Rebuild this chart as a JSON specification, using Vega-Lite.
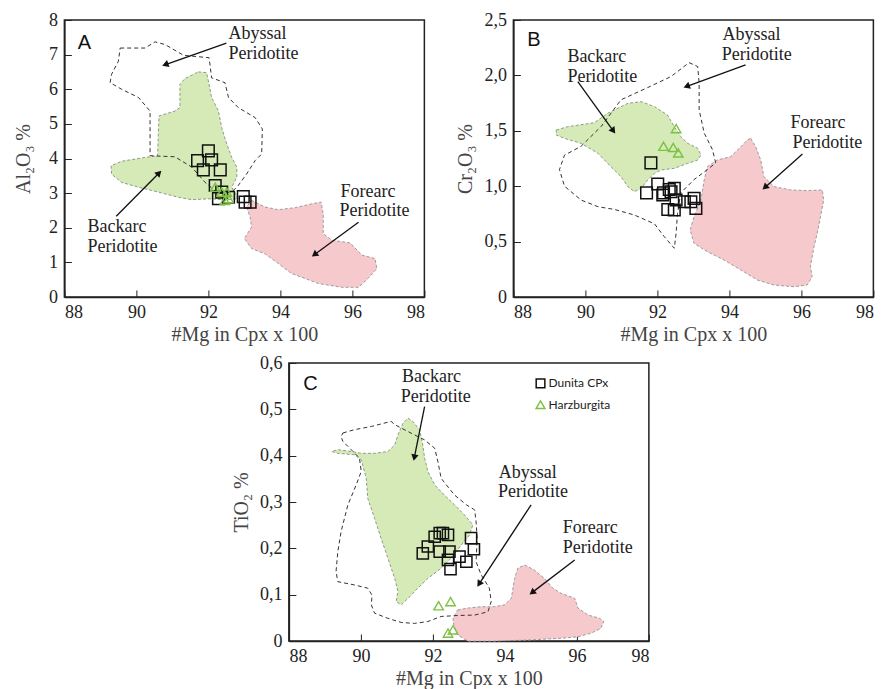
{
"$schema":"https://vega.github.io/schema/vega-lite/v6.json",
"background":"white",
"padding":{"left":12,"top":10,"right":5,"bottom":0},
"config":{
 "view":{"stroke":"#222","strokeWidth":1.5},
 "axis":{"grid":false,"domainColor":"#222","domainWidth":1.5,"tickColor":"#222","tickWidth":1,"tickSize":-7,"labelFont":"Liberation Serif","labelFontSize":18,"labelColor":"#222","labelPadding":10,"titleFont":"Liberation Serif","titleFontSize":20,"titleFontWeight":"normal","titleColor":"#444"},
 "axisX":{"labelPadding":13.5,"titlePadding":2.5},
 "axisY":{"labelPadding":14,"titlePadding":6}
},
"datasets":{
 "poly":[
  {"p":"A","r":"aby","x":89.55,"y":7.19},{"p":"A","r":"aby","x":90.24,"y":7.19},{"p":"A","r":"aby","x":90.52,"y":7.37},{"p":"A","r":"aby","x":90.8,"y":7.29},{"p":"A","r":"aby","x":91.31,"y":6.98},{"p":"A","r":"aby","x":92.02,"y":6.91},{"p":"A","r":"aby","x":92.09,"y":6.33},{"p":"A","r":"aby","x":92.46,"y":6.19},{"p":"A","r":"aby","x":92.56,"y":5.76},{"p":"A","r":"aby","x":92.83,"y":5.47},{"p":"A","r":"aby","x":93.3,"y":5.18},{"p":"A","r":"aby","x":93.5,"y":4.85},{"p":"A","r":"aby","x":93.48,"y":4.13},{"p":"A","r":"aby","x":93.3,"y":3.94},{"p":"A","r":"aby","x":93.06,"y":3.55},{"p":"A","r":"aby","x":92.83,"y":3.22},{"p":"A","r":"aby","x":92.65,"y":3.03},{"p":"A","r":"aby","x":92.28,"y":2.98},{"p":"A","r":"aby","x":91.91,"y":3.31},{"p":"A","r":"aby","x":91.54,"y":3.75},{"p":"A","r":"aby","x":91.07,"y":4.05},{"p":"A","r":"aby","x":90.38,"y":4.08},{"p":"A","r":"aby","x":90.38,"y":5.37},{"p":"A","r":"aby","x":90.06,"y":5.76},{"p":"A","r":"aby","x":89.59,"y":6.0},{"p":"A","r":"aby","x":89.27,"y":6.19},{"p":"A","r":"aby","x":89.31,"y":6.43},{"p":"A","r":"aby","x":89.5,"y":6.81},
  {"p":"A","r":"back","x":91.72,"y":6.5},{"p":"A","r":"back","x":91.95,"y":6.48},{"p":"A","r":"back","x":92.02,"y":6.14},{"p":"A","r":"back","x":92.09,"y":5.76},{"p":"A","r":"back","x":92.28,"y":5.37},{"p":"A","r":"back","x":92.37,"y":4.89},{"p":"A","r":"back","x":92.51,"y":4.42},{"p":"A","r":"back","x":92.65,"y":4.03},{"p":"A","r":"back","x":92.79,"y":3.75},{"p":"A","r":"back","x":92.79,"y":3.46},{"p":"A","r":"back","x":92.65,"y":3.17},{"p":"A","r":"back","x":92.83,"y":2.84},{"p":"A","r":"back","x":92.46,"y":2.8},{"p":"A","r":"back","x":92.09,"y":2.84},{"p":"A","r":"back","x":91.54,"y":2.81},{"p":"A","r":"back","x":91.17,"y":2.88},{"p":"A","r":"back","x":90.61,"y":3.03},{"p":"A","r":"back","x":90.06,"y":3.17},{"p":"A","r":"back","x":89.59,"y":3.31},{"p":"A","r":"back","x":89.31,"y":3.55},{"p":"A","r":"back","x":89.3,"y":3.79},{"p":"A","r":"back","x":89.59,"y":3.92},{"p":"A","r":"back","x":90.24,"y":4.03},{"p":"A","r":"back","x":90.59,"y":4.08},{"p":"A","r":"back","x":90.61,"y":4.7},{"p":"A","r":"back","x":90.63,"y":5.23},{"p":"A","r":"back","x":91.07,"y":5.37},{"p":"A","r":"back","x":91.21,"y":5.47},{"p":"A","r":"back","x":91.21,"y":6.14},{"p":"A","r":"back","x":91.35,"y":6.31},
  {"p":"A","r":"fore","x":93.2,"y":2.79},{"p":"A","r":"fore","x":93.57,"y":2.6},{"p":"A","r":"fore","x":93.94,"y":2.52},{"p":"A","r":"fore","x":94.41,"y":2.58},{"p":"A","r":"fore","x":94.87,"y":2.69},{"p":"A","r":"fore","x":95.13,"y":2.74},{"p":"A","r":"fore","x":95.19,"y":2.4},{"p":"A","r":"fore","x":95.19,"y":1.83},{"p":"A","r":"fore","x":95.43,"y":1.64},{"p":"A","r":"fore","x":95.94,"y":1.56},{"p":"A","r":"fore","x":96.26,"y":1.21},{"p":"A","r":"fore","x":96.63,"y":1.11},{"p":"A","r":"fore","x":96.68,"y":0.82},{"p":"A","r":"fore","x":96.44,"y":0.54},{"p":"A","r":"fore","x":96.17,"y":0.28},{"p":"A","r":"fore","x":95.7,"y":0.28},{"p":"A","r":"fore","x":95.06,"y":0.39},{"p":"A","r":"fore","x":94.31,"y":0.68},{"p":"A","r":"fore","x":93.94,"y":0.97},{"p":"A","r":"fore","x":93.57,"y":1.25},{"p":"A","r":"fore","x":93.2,"y":1.4},{"p":"A","r":"fore","x":93.0,"y":1.69},{"p":"A","r":"fore","x":93.2,"y":2.02},{"p":"A","r":"fore","x":93.16,"y":2.31},{"p":"A","r":"fore","x":93.06,"y":2.6},
  {"p":"B","r":"aby","x":92.88,"y":2.115},{"p":"B","r":"aby","x":93.12,"y":2.08},{"p":"B","r":"aby","x":93.16,"y":1.93},{"p":"B","r":"aby","x":93.16,"y":1.69},{"p":"B","r":"aby","x":93.3,"y":1.48},{"p":"B","r":"aby","x":93.53,"y":1.33},{"p":"B","r":"aby","x":93.62,"y":1.21},{"p":"B","r":"aby","x":93.39,"y":1.15},{"p":"B","r":"aby","x":93.02,"y":1.06},{"p":"B","r":"aby","x":92.65,"y":0.94},{"p":"B","r":"aby","x":92.56,"y":0.755},{"p":"B","r":"aby","x":92.52,"y":0.575},{"p":"B","r":"aby","x":92.47,"y":0.44},{"p":"B","r":"aby","x":92.19,"y":0.545},{"p":"B","r":"aby","x":91.92,"y":0.66},{"p":"B","r":"aby","x":91.36,"y":0.74},{"p":"B","r":"aby","x":90.81,"y":0.79},{"p":"B","r":"aby","x":90.35,"y":0.815},{"p":"B","r":"aby","x":89.88,"y":0.875},{"p":"B","r":"aby","x":89.42,"y":1.0},{"p":"B","r":"aby","x":89.28,"y":1.15},{"p":"B","r":"aby","x":89.42,"y":1.28},{"p":"B","r":"aby","x":89.88,"y":1.36},{"p":"B","r":"aby","x":90.44,"y":1.54},{"p":"B","r":"aby","x":90.99,"y":1.78},{"p":"B","r":"aby","x":91.73,"y":1.89},{"p":"B","r":"aby","x":92.38,"y":1.99},
  {"p":"B","r":"back","x":89.19,"y":1.507},{"p":"B","r":"back","x":89.51,"y":1.537},{"p":"B","r":"back","x":90.25,"y":1.573},{"p":"B","r":"back","x":90.62,"y":1.658},{"p":"B","r":"back","x":91.18,"y":1.748},{"p":"B","r":"back","x":91.55,"y":1.763},{"p":"B","r":"back","x":91.92,"y":1.718},{"p":"B","r":"back","x":92.28,"y":1.643},{"p":"B","r":"back","x":92.47,"y":1.537},{"p":"B","r":"back","x":92.65,"y":1.447},{"p":"B","r":"back","x":92.84,"y":1.387},{"p":"B","r":"back","x":93.12,"y":1.342},{"p":"B","r":"back","x":93.21,"y":1.282},{"p":"B","r":"back","x":93.12,"y":1.236},{"p":"B","r":"back","x":92.84,"y":1.206},{"p":"B","r":"back","x":92.47,"y":1.161},{"p":"B","r":"back","x":92.1,"y":1.146},{"p":"B","r":"back","x":91.92,"y":1.116},{"p":"B","r":"back","x":91.73,"y":1.056},{"p":"B","r":"back","x":91.55,"y":0.981},{"p":"B","r":"back","x":91.36,"y":0.951},{"p":"B","r":"back","x":91.18,"y":0.996},{"p":"B","r":"back","x":90.99,"y":1.086},{"p":"B","r":"back","x":90.71,"y":1.176},{"p":"B","r":"back","x":90.35,"y":1.297},{"p":"B","r":"back","x":89.88,"y":1.387},{"p":"B","r":"back","x":89.42,"y":1.432},{"p":"B","r":"back","x":89.19,"y":1.462},
  {"p":"B","r":"fore","x":94.59,"y":1.432},{"p":"B","r":"fore","x":94.73,"y":1.357},{"p":"B","r":"fore","x":94.87,"y":1.236},{"p":"B","r":"fore","x":94.96,"y":1.086},{"p":"B","r":"fore","x":95.24,"y":0.996},{"p":"B","r":"fore","x":95.7,"y":0.966},{"p":"B","r":"fore","x":96.16,"y":0.96},{"p":"B","r":"fore","x":96.58,"y":0.966},{"p":"B","r":"fore","x":96.62,"y":0.875},{"p":"B","r":"fore","x":96.53,"y":0.725},{"p":"B","r":"fore","x":96.44,"y":0.575},{"p":"B","r":"fore","x":96.35,"y":0.454},{"p":"B","r":"fore","x":96.25,"y":0.274},{"p":"B","r":"fore","x":96.3,"y":0.184},{"p":"B","r":"fore","x":96.16,"y":0.108},{"p":"B","r":"fore","x":95.79,"y":0.093},{"p":"B","r":"fore","x":95.24,"y":0.108},{"p":"B","r":"fore","x":94.78,"y":0.153},{"p":"B","r":"fore","x":94.32,"y":0.244},{"p":"B","r":"fore","x":93.85,"y":0.334},{"p":"B","r":"fore","x":93.39,"y":0.409},{"p":"B","r":"fore","x":93.02,"y":0.484},{"p":"B","r":"fore","x":92.91,"y":0.605},{"p":"B","r":"fore","x":93.02,"y":0.725},{"p":"B","r":"fore","x":93.21,"y":0.875},{"p":"B","r":"fore","x":93.3,"y":1.056},{"p":"B","r":"fore","x":93.39,"y":1.176},{"p":"B","r":"fore","x":93.67,"y":1.236},{"p":"B","r":"fore","x":94.04,"y":1.267},{"p":"B","r":"fore","x":94.32,"y":1.357},{"p":"B","r":"fore","x":94.5,"y":1.417},
  {"p":"C","r":"aby","x":89.5,"y":0.449},{"p":"C","r":"aby","x":89.82,"y":0.456},{"p":"C","r":"aby","x":90.29,"y":0.463},{"p":"C","r":"aby","x":90.84,"y":0.474},{"p":"C","r":"aby","x":90.94,"y":0.467},{"p":"C","r":"aby","x":91.31,"y":0.452},{"p":"C","r":"aby","x":91.77,"y":0.434},{"p":"C","r":"aby","x":92.05,"y":0.416},{"p":"C","r":"aby","x":92.14,"y":0.387},{"p":"C","r":"aby","x":92.23,"y":0.351},{"p":"C","r":"aby","x":92.6,"y":0.315},{"p":"C","r":"aby","x":92.93,"y":0.294},{"p":"C","r":"aby","x":93.16,"y":0.283},{"p":"C","r":"aby","x":93.2,"y":0.258},{"p":"C","r":"aby","x":93.23,"y":0.222},{"p":"C","r":"aby","x":93.2,"y":0.171},{"p":"C","r":"aby","x":93.34,"y":0.143},{"p":"C","r":"aby","x":93.57,"y":0.114},{"p":"C","r":"aby","x":93.62,"y":0.085},{"p":"C","r":"aby","x":93.53,"y":0.063},{"p":"C","r":"aby","x":93.16,"y":0.056},{"p":"C","r":"aby","x":92.69,"y":0.055},{"p":"C","r":"aby","x":92.23,"y":0.053},{"p":"C","r":"aby","x":91.86,"y":0.042},{"p":"C","r":"aby","x":91.49,"y":0.038},{"p":"C","r":"aby","x":91.12,"y":0.04},{"p":"C","r":"aby","x":90.75,"y":0.049},{"p":"C","r":"aby","x":90.38,"y":0.06},{"p":"C","r":"aby","x":90.29,"y":0.078},{"p":"C","r":"aby","x":90.31,"y":0.099},{"p":"C","r":"aby","x":90.19,"y":0.114},{"p":"C","r":"aby","x":89.82,"y":0.121},{"p":"C","r":"aby","x":89.36,"y":0.128},{"p":"C","r":"aby","x":89.31,"y":0.15},{"p":"C","r":"aby","x":89.36,"y":0.193},{"p":"C","r":"aby","x":89.45,"y":0.236},{"p":"C","r":"aby","x":89.64,"y":0.294},{"p":"C","r":"aby","x":89.87,"y":0.337},{"p":"C","r":"aby","x":90.01,"y":0.366},{"p":"C","r":"aby","x":89.96,"y":0.395},{"p":"C","r":"aby","x":89.73,"y":0.413},{"p":"C","r":"aby","x":89.5,"y":0.431},{"p":"C","r":"aby","x":89.45,"y":0.441},
  {"p":"C","r":"back","x":91.31,"y":0.481},{"p":"C","r":"back","x":91.44,"y":0.474},{"p":"C","r":"back","x":91.63,"y":0.456},{"p":"C","r":"back","x":91.72,"y":0.423},{"p":"C","r":"back","x":91.77,"y":0.395},{"p":"C","r":"back","x":91.86,"y":0.366},{"p":"C","r":"back","x":92.05,"y":0.337},{"p":"C","r":"back","x":92.32,"y":0.315},{"p":"C","r":"back","x":92.6,"y":0.294},{"p":"C","r":"back","x":92.88,"y":0.272},{"p":"C","r":"back","x":93.11,"y":0.251},{"p":"C","r":"back","x":93.02,"y":0.229},{"p":"C","r":"back","x":92.79,"y":0.207},{"p":"C","r":"back","x":92.51,"y":0.179},{"p":"C","r":"back","x":92.23,"y":0.157},{"p":"C","r":"back","x":91.86,"y":0.135},{"p":"C","r":"back","x":91.58,"y":0.114},{"p":"C","r":"back","x":91.31,"y":0.092},{"p":"C","r":"back","x":91.12,"y":0.078},{"p":"C","r":"back","x":90.98,"y":0.085},{"p":"C","r":"back","x":91.03,"y":0.107},{"p":"C","r":"back","x":90.94,"y":0.135},{"p":"C","r":"back","x":90.75,"y":0.179},{"p":"C","r":"back","x":90.56,"y":0.222},{"p":"C","r":"back","x":90.38,"y":0.265},{"p":"C","r":"back","x":90.19,"y":0.308},{"p":"C","r":"back","x":90.15,"y":0.351},{"p":"C","r":"back","x":90.01,"y":0.391},{"p":"C","r":"back","x":89.82,"y":0.402},{"p":"C","r":"back","x":89.36,"y":0.405},{"p":"C","r":"back","x":89.19,"y":0.409},{"p":"C","r":"back","x":89.36,"y":0.413},{"p":"C","r":"back","x":89.73,"y":0.409},{"p":"C","r":"back","x":90.01,"y":0.405},{"p":"C","r":"back","x":90.38,"y":0.405},{"p":"C","r":"back","x":90.75,"y":0.409},{"p":"C","r":"back","x":90.94,"y":0.423},{"p":"C","r":"back","x":91.03,"y":0.445},{"p":"C","r":"back","x":91.17,"y":0.47},
  {"p":"C","r":"fore","x":92.69,"y":0.067},{"p":"C","r":"fore","x":92.97,"y":0.071},{"p":"C","r":"fore","x":93.34,"y":0.074},{"p":"C","r":"fore","x":93.71,"y":0.074},{"p":"C","r":"fore","x":93.99,"y":0.078},{"p":"C","r":"fore","x":94.18,"y":0.092},{"p":"C","r":"fore","x":94.27,"y":0.135},{"p":"C","r":"fore","x":94.36,"y":0.157},{"p":"C","r":"fore","x":94.55,"y":0.164},{"p":"C","r":"fore","x":94.82,"y":0.153},{"p":"C","r":"fore","x":95.1,"y":0.135},{"p":"C","r":"fore","x":95.33,"y":0.114},{"p":"C","r":"fore","x":95.56,"y":0.103},{"p":"C","r":"fore","x":95.94,"y":0.092},{"p":"C","r":"fore","x":96.03,"y":0.071},{"p":"C","r":"fore","x":96.31,"y":0.056},{"p":"C","r":"fore","x":96.63,"y":0.049},{"p":"C","r":"fore","x":96.75,"y":0.042},{"p":"C","r":"fore","x":96.66,"y":0.027},{"p":"C","r":"fore","x":96.4,"y":0.017},{"p":"C","r":"fore","x":96.03,"y":0.009},{"p":"C","r":"fore","x":95.56,"y":0.006},{"p":"C","r":"fore","x":94.64,"y":0.002},{"p":"C","r":"fore","x":93.71,"y":0.0},{"p":"C","r":"fore","x":92.97,"y":0.0},{"p":"C","r":"fore","x":92.69,"y":0.013},{"p":"C","r":"fore","x":92.58,"y":0.035},{"p":"C","r":"fore","x":92.56,"y":0.049}
 ],
 "pts":[
  {"p":"A","t":"Dunita CPx","x":91.7,"y":3.94},{"p":"A","t":"Dunita CPx","x":92.0,"y":4.22},{"p":"A","t":"Dunita CPx","x":92.09,"y":3.96},{"p":"A","t":"Dunita CPx","x":91.86,"y":3.67},{"p":"A","t":"Dunita CPx","x":92.33,"y":3.67},{"p":"A","t":"Dunita CPx","x":92.19,"y":3.22},{"p":"A","t":"Dunita CPx","x":92.37,"y":3.03},{"p":"A","t":"Dunita CPx","x":92.28,"y":2.84},{"p":"A","t":"Dunita CPx","x":92.56,"y":2.88},{"p":"A","t":"Dunita CPx","x":92.97,"y":2.9},{"p":"A","t":"Dunita CPx","x":93.02,"y":2.74},{"p":"A","t":"Dunita CPx","x":93.16,"y":2.74},
  {"p":"A","t":"Harzburgita","x":92.19,"y":3.17},{"p":"A","t":"Harzburgita","x":92.37,"y":3.03},{"p":"A","t":"Harzburgita","x":92.51,"y":3.03},{"p":"A","t":"Harzburgita","x":92.56,"y":2.84},{"p":"A","t":"Harzburgita","x":92.46,"y":2.79},
  {"p":"B","t":"Dunita CPx","x":91.82,"y":1.21},{"p":"B","t":"Dunita CPx","x":91.7,"y":0.94},{"p":"B","t":"Dunita CPx","x":92.01,"y":1.02},{"p":"B","t":"Dunita CPx","x":92.17,"y":0.94},{"p":"B","t":"Dunita CPx","x":92.33,"y":0.97},{"p":"B","t":"Dunita CPx","x":92.47,"y":0.98},{"p":"B","t":"Dunita CPx","x":92.29,"y":0.79},{"p":"B","t":"Dunita CPx","x":92.47,"y":0.785},{"p":"B","t":"Dunita CPx","x":92.52,"y":0.875},{"p":"B","t":"Dunita CPx","x":92.75,"y":0.86},{"p":"B","t":"Dunita CPx","x":92.93,"y":0.86},{"p":"B","t":"Dunita CPx","x":93.02,"y":0.89},{"p":"B","t":"Dunita CPx","x":93.07,"y":0.8},{"p":"B","t":"Dunita CPx","x":92.15,"y":0.92},{"p":"B","t":"Dunita CPx","x":92.38,"y":0.95},
  {"p":"B","t":"Harzburgita","x":92.52,"y":1.52},{"p":"B","t":"Harzburgita","x":92.17,"y":1.36},{"p":"B","t":"Harzburgita","x":92.44,"y":1.35},{"p":"B","t":"Harzburgita","x":92.58,"y":1.3},
  {"p":"C","t":"Dunita CPx","x":91.72,"y":0.189},{"p":"C","t":"Dunita CPx","x":91.86,"y":0.204},{"p":"C","t":"Dunita CPx","x":92.05,"y":0.225},{"p":"C","t":"Dunita CPx","x":92.19,"y":0.233},{"p":"C","t":"Dunita CPx","x":92.28,"y":0.233},{"p":"C","t":"Dunita CPx","x":92.42,"y":0.229},{"p":"C","t":"Dunita CPx","x":92.19,"y":0.193},{"p":"C","t":"Dunita CPx","x":92.46,"y":0.193},{"p":"C","t":"Dunita CPx","x":92.42,"y":0.175},{"p":"C","t":"Dunita CPx","x":92.49,"y":0.155},{"p":"C","t":"Dunita CPx","x":92.74,"y":0.182},{"p":"C","t":"Dunita CPx","x":92.93,"y":0.171},{"p":"C","t":"Dunita CPx","x":93.06,"y":0.222},{"p":"C","t":"Dunita CPx","x":93.14,"y":0.198},
  {"p":"C","t":"Harzburgita","x":92.16,"y":0.076},{"p":"C","t":"Harzburgita","x":92.49,"y":0.085},{"p":"C","t":"Harzburgita","x":92.42,"y":0.017},{"p":"C","t":"Harzburgita","x":92.56,"y":0.024}
 ],
 "notes":[
  {"p":"A","k":"letter","x":88.56,"y":7.33,"text":"A"},
  {"p":"A","k":"note","x":92.56,"y":7.59,"text":"Abyssal"},{"p":"A","k":"note","x":92.56,"y":7.01,"text":"Peridotite"},
  {"p":"A","k":"note","x":88.64,"y":2.01,"text":"Backarc"},{"p":"A","k":"note","x":88.64,"y":1.44,"text":"Peridotite"},
  {"p":"A","k":"note","x":95.67,"y":3.02,"text":"Forearc"},{"p":"A","k":"note","x":95.64,"y":2.47,"text":"Peridotite"},
  {"p":"B","k":"letter","x":88.57,"y":2.315,"text":"B"},
  {"p":"B","k":"note","x":89.5,"y":2.166,"text":"Backarc"},{"p":"B","k":"note","x":89.5,"y":1.986,"text":"Peridotite"},
  {"p":"B","k":"note","x":93.81,"y":2.365,"text":"Abyssal"},{"p":"B","k":"note","x":93.79,"y":2.184,"text":"Peridotite"},
  {"p":"B","k":"note","x":95.7,"y":1.57,"text":"Forearc"},{"p":"B","k":"note","x":95.75,"y":1.39,"text":"Peridotite"},
  {"p":"C","k":"letter","x":88.6,"y":0.554,"text":"C"},
  {"p":"C","k":"note","x":91.14,"y":0.57,"text":"Backarc"},{"p":"C","k":"note","x":91.11,"y":0.527,"text":"Peridotite"},
  {"p":"C","k":"note","x":93.83,"y":0.363,"text":"Abyssal"},{"p":"C","k":"note","x":93.81,"y":0.322,"text":"Peridotite"},
  {"p":"C","k":"note","x":95.61,"y":0.244,"text":"Forearc"},{"p":"C","k":"note","x":95.61,"y":0.201,"text":"Peridotite"}
 ],
 "arrows":[
  {"p":"A","x0":92.5,"y0":7.33,"x":90.83,"y":6.72,"ang":250.7},
  {"p":"A","x0":89.44,"y0":2.33,"x":90.61,"y":3.56,"ang":44.3},
  {"p":"A","x0":96.17,"y0":2.16,"x":94.97,"y":1.24,"ang":233.3},
  {"p":"B","x0":89.79,"y0":1.943,"x":90.76,"y":1.507,"ang":144},
  {"p":"B","x0":94.45,"y0":2.094,"x":92.84,"y":1.904,"ang":250.2},
  {"p":"B","x0":96.03,"y0":1.291,"x":95.01,"y":0.995,"ang":228.3},
  {"p":"C","x0":91.77,"y0":0.506,"x":91.49,"y":0.398,"ang":191.3},
  {"p":"C","x0":94.73,"y0":0.294,"x":93.3,"y":0.125,"ang":213.4},
  {"p":"C","x0":95.94,"y0":0.175,"x":94.78,"y":0.106,"ang":232.8}
 ],
 "leg":[
  {"t":"Dunita CPx","x":94.99,"y":0.556},
  {"t":"Harzburgita","x":94.99,"y":0.51}
 ]
},
"spacing":8,
"center":true,
"vconcat":[
 {"hconcat":[
  {"width":360,"height":277,
   "encoding":{
    "x":{"field":"x","type":"quantitative","scale":{"domain":[88,98],"nice":false,"zero":false},"axis":{"values":[88,90,92,94,96,98],"title":"#Mg in Cpx x 100"}},
    "y":{"field":"y","type":"quantitative","scale":{"domain":[0,8],"nice":false},"axis":{"values":[0,1,2,3,4,5,6,7,8],"title":"Al₂O₃ %","titlePadding":15}}
   },
   "layer":[
    {"data":{"name":"poly"},"transform":[{"filter":"datum.p=='A' && datum.r=='back'"}],"mark":{"type":"line","interpolate":"linear-closed","fill":"#d5eab7","stroke":"#8e9c86","strokeWidth":1,"strokeDash":[3,2]},"encoding":{"order":{"value":null}}},
    {"data":{"name":"poly"},"transform":[{"filter":"datum.p=='A' && datum.r=='fore'"}],"mark":{"type":"line","interpolate":"linear-closed","fill":"#f6c9cd","stroke":"#a09a9a","strokeWidth":1,"strokeDash":[3,2]},"encoding":{"order":{"value":null}}},
    {"data":{"name":"poly"},"transform":[{"filter":"datum.p=='A' && datum.r=='aby'"}],"mark":{"type":"line","interpolate":"linear-closed","stroke":"#333","strokeWidth":1,"strokeDash":[4,3]},"encoding":{"order":{"value":null}}},
    {"data":{"name":"pts"},"transform":[{"filter":"datum.p=='A' && datum.t=='Dunita CPx'"}],"mark":{"type":"point","shape":"square","size":135,"filled":false,"stroke":"#111","strokeWidth":1.5,"opacity":1}},
    {"data":{"name":"pts"},"transform":[{"filter":"datum.p=='A' && datum.t=='Harzburgita'"}],"mark":{"type":"point","shape":"triangle-up","size":90,"filled":false,"stroke":"#7cc142","strokeWidth":1.4,"opacity":1}},
    {"data":{"name":"arrows"},"transform":[{"filter":"datum.p=='A'"}],"mark":{"type":"rule","stroke":"#111","strokeWidth":1.3},"encoding":{"x2":{"field":"x0"},"y2":{"field":"y0"}}},
    {"data":{"name":"arrows"},"transform":[{"filter":"datum.p=='A'"}],"mark":{"type":"point","shape":"triangle","size":55,"filled":true,"color":"#111","opacity":1},"encoding":{"angle":{"field":"ang","type":"quantitative","scale":null}}},
    {"data":{"name":"notes"},"transform":[{"filter":"datum.p=='A' && datum.k=='note'"}],"mark":{"type":"text","font":"Liberation Serif","fontSize":18,"align":"left","baseline":"middle","color":"#222"},"encoding":{"text":{"field":"text","type":"nominal"}}},
    {"data":{"name":"notes"},"transform":[{"filter":"datum.p=='A' && datum.k=='letter'"}],"mark":{"type":"text","font":"Liberation Sans","fontSize":20,"align":"center","baseline":"middle","color":"#111"},"encoding":{"text":{"field":"text","type":"nominal"}}}
   ]},
  {"width":360,"height":277,
   "encoding":{
    "x":{"field":"x","type":"quantitative","scale":{"domain":[88,98],"nice":false,"zero":false},"axis":{"values":[88,90,92,94,96,98],"title":"#Mg in Cpx x 100"}},
    "y":{"field":"y","type":"quantitative","scale":{"domain":[0,2.5],"nice":false},"axis":{"values":[0,0.5,1,1.5,2,2.5],"labelExpr":"datum.value==0 ? '0' : replace(format(datum.value,'.1f'),'.',',')","title":"Cr₂O₃ %","titlePadding":8}}
   },
   "layer":[
    {"data":{"name":"poly"},"transform":[{"filter":"datum.p=='B' && datum.r=='back'"}],"mark":{"type":"line","interpolate":"linear-closed","fill":"#d5eab7","stroke":"#8e9c86","strokeWidth":1,"strokeDash":[3,2]},"encoding":{"order":{"value":null}}},
    {"data":{"name":"poly"},"transform":[{"filter":"datum.p=='B' && datum.r=='fore'"}],"mark":{"type":"line","interpolate":"linear-closed","fill":"#f6c9cd","stroke":"#a09a9a","strokeWidth":1,"strokeDash":[3,2]},"encoding":{"order":{"value":null}}},
    {"data":{"name":"poly"},"transform":[{"filter":"datum.p=='B' && datum.r=='aby'"}],"mark":{"type":"line","interpolate":"linear-closed","stroke":"#333","strokeWidth":1,"strokeDash":[4,3]},"encoding":{"order":{"value":null}}},
    {"data":{"name":"pts"},"transform":[{"filter":"datum.p=='B' && datum.t=='Dunita CPx'"}],"mark":{"type":"point","shape":"square","size":135,"filled":false,"stroke":"#111","strokeWidth":1.5,"opacity":1}},
    {"data":{"name":"pts"},"transform":[{"filter":"datum.p=='B' && datum.t=='Harzburgita'"}],"mark":{"type":"point","shape":"triangle-up","size":90,"filled":false,"stroke":"#7cc142","strokeWidth":1.4,"opacity":1}},
    {"data":{"name":"arrows"},"transform":[{"filter":"datum.p=='B'"}],"mark":{"type":"rule","stroke":"#111","strokeWidth":1.3},"encoding":{"x2":{"field":"x0"},"y2":{"field":"y0"}}},
    {"data":{"name":"arrows"},"transform":[{"filter":"datum.p=='B'"}],"mark":{"type":"point","shape":"triangle","size":55,"filled":true,"color":"#111","opacity":1},"encoding":{"angle":{"field":"ang","type":"quantitative","scale":null}}},
    {"data":{"name":"notes"},"transform":[{"filter":"datum.p=='B' && datum.k=='note'"}],"mark":{"type":"text","font":"Liberation Serif","fontSize":18,"align":"left","baseline":"middle","color":"#222"},"encoding":{"text":{"field":"text","type":"nominal"}}},
    {"data":{"name":"notes"},"transform":[{"filter":"datum.p=='B' && datum.k=='letter'"}],"mark":{"type":"text","font":"Liberation Sans","fontSize":20,"align":"center","baseline":"middle","color":"#111"},"encoding":{"text":{"field":"text","type":"nominal"}}}
   ]}
 ],"spacing":28},
 {"width":360,"height":278,
  "encoding":{
   "x":{"field":"x","type":"quantitative","scale":{"domain":[88,98],"nice":false,"zero":false},"axis":{"values":[88,90,92,94,96,98],"title":"#Mg in Cpx x 100"}},
   "y":{"field":"y","type":"quantitative","scale":{"domain":[0,0.6],"nice":false},"axis":{"values":[0,0.1,0.2,0.3,0.4,0.5,0.6],"labelExpr":"datum.value==0 ? '0' : replace(format(datum.value,'.1f'),'.',',')","title":"TiO₂ %","titlePadding":7.5}}
  },
  "layer":[
   {"data":{"name":"poly"},"transform":[{"filter":"datum.p=='C' && datum.r=='back'"}],"mark":{"type":"line","interpolate":"linear-closed","fill":"#d5eab7","stroke":"#8e9c86","strokeWidth":1,"strokeDash":[3,2]},"encoding":{"order":{"value":null}}},
   {"data":{"name":"poly"},"transform":[{"filter":"datum.p=='C' && datum.r=='fore'"}],"mark":{"type":"line","interpolate":"linear-closed","fill":"#f6c9cd","stroke":"#a09a9a","strokeWidth":1,"strokeDash":[3,2]},"encoding":{"order":{"value":null}}},
   {"data":{"name":"poly"},"transform":[{"filter":"datum.p=='C' && datum.r=='aby'"}],"mark":{"type":"line","interpolate":"linear-closed","stroke":"#333","strokeWidth":1,"strokeDash":[4,3]},"encoding":{"order":{"value":null}}},
   {"data":{"name":"pts"},"transform":[{"filter":"datum.p=='C' && datum.t=='Dunita CPx'"}],"mark":{"type":"point","shape":"square","size":125,"filled":false,"stroke":"#111","strokeWidth":1.5,"opacity":1}},
   {"data":{"name":"pts"},"transform":[{"filter":"datum.p=='C' && datum.t=='Harzburgita'"}],"mark":{"type":"point","shape":"triangle-up","size":90,"filled":false,"stroke":"#7cc142","strokeWidth":1.4,"opacity":1}},
   {"data":{"name":"arrows"},"transform":[{"filter":"datum.p=='C'"}],"mark":{"type":"rule","stroke":"#111","strokeWidth":1.3},"encoding":{"x2":{"field":"x0"},"y2":{"field":"y0"}}},
   {"data":{"name":"arrows"},"transform":[{"filter":"datum.p=='C'"}],"mark":{"type":"point","shape":"triangle","size":55,"filled":true,"color":"#111","opacity":1},"encoding":{"angle":{"field":"ang","type":"quantitative","scale":null}}},
   {"data":{"name":"notes"},"transform":[{"filter":"datum.p=='C' && datum.k=='note'"}],"mark":{"type":"text","font":"Liberation Serif","fontSize":18,"align":"left","baseline":"middle","color":"#222"},"encoding":{"text":{"field":"text","type":"nominal"}}},
   {"data":{"name":"notes"},"transform":[{"filter":"datum.p=='C' && datum.k=='letter'"}],"mark":{"type":"text","font":"Liberation Sans","fontSize":20,"align":"center","baseline":"middle","color":"#111"},"encoding":{"text":{"field":"text","type":"nominal"}}},
   {"data":{"name":"leg"},"transform":[{"filter":"datum.t=='Dunita CPx'"}],"mark":{"type":"point","shape":"square","size":75,"filled":false,"stroke":"#111","strokeWidth":1.5,"opacity":1}},
   {"data":{"name":"leg"},"transform":[{"filter":"datum.t=='Harzburgita'"}],"mark":{"type":"point","shape":"triangle-up","size":80,"filled":false,"stroke":"#7cc142","strokeWidth":1.4,"opacity":1}},
   {"data":{"name":"leg"},"mark":{"type":"text","font":"Lato","fontSize":12,"align":"left","baseline":"middle","dx":8,"color":"#222"},"encoding":{"text":{"field":"t","type":"nominal"}}}
  ]}
]
}
